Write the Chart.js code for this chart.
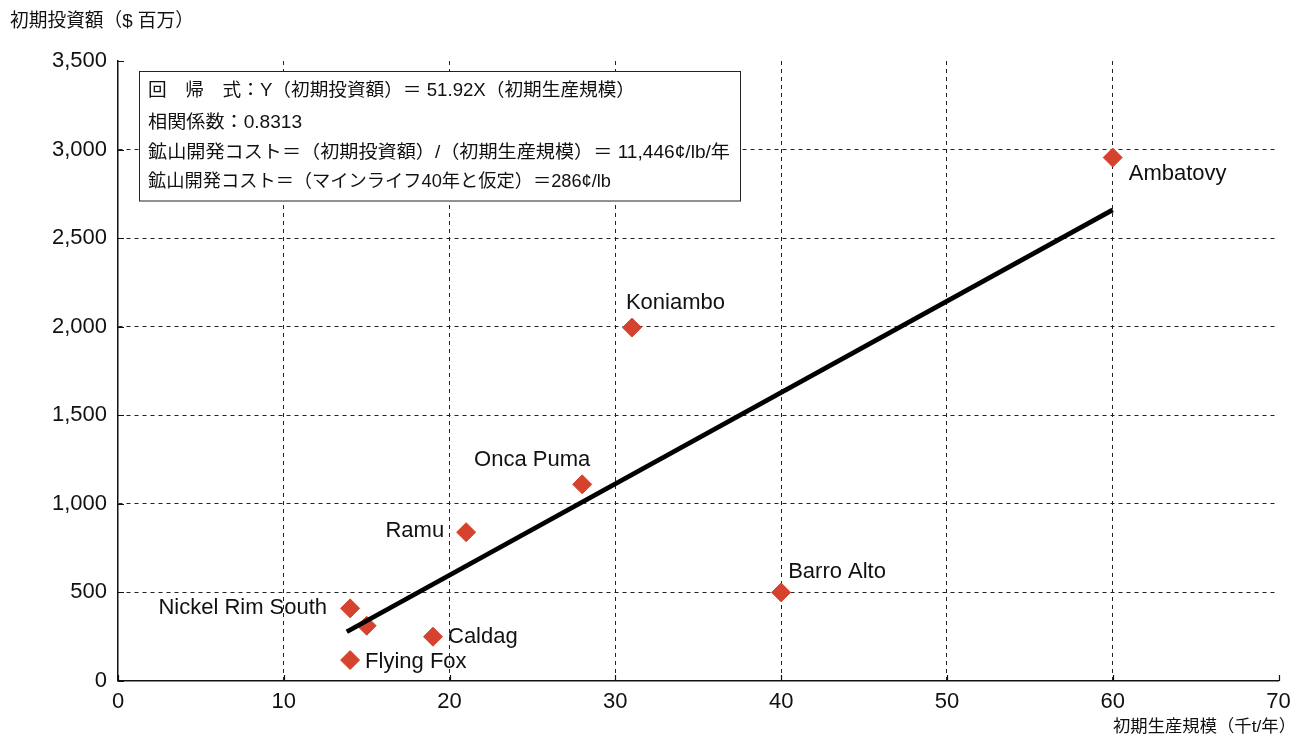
<!DOCTYPE html>
<html>
<head>
<meta charset="utf-8">
<script src="https://cdn.jsdelivr.net/npm/chart.js@4.4.1/dist/chart.umd.min.js"></script>
<style>
  html, body { margin: 0; padding: 0; background: #fff; }
</style>
</head>
<body>
<canvas id="chart" width="1295" height="738"></canvas>
<script>
// data
const mineNames = ["Ambatovy", "Koniambo", "Onca Puma", "Ramu", "Barro Alto", "Nickel Rim South", "", "Caldag", "Flying Fox"];
const capacity = [60, 31, 28, 21, 40, 14, 15, 19, 14];          // 千t/年
const capex = [2955, 1995, 1110, 840, 500, 410, 312, 250, 118];  // $百万
const fitX = [13.8, 60];
const fitY = [278, 2660];
const xTicks = [0, 10, 20, 30, 40, 50, 60, 70];
const yTicks = [0, 500, 1000, 1500, 2000, 2500, 3000, 3500];
const yTitle = "初期投資額（$ 百万）";
const xTitle = "初期生産規模（千t/年）";
const noteLines = [
  "回　帰　式：Y（初期投資額）＝ 51.92X（初期生産規模）",
  "相関係数：0.8313",
  "鉱山開発コスト＝（初期投資額）/（初期生産規模）＝ 11,446¢/lb/年",
  "鉱山開発コスト＝（マインライフ40年と仮定）＝286¢/lb"
];

const FONT = "'Liberation Sans', 'Noto Sans CJK JP', sans-serif";
const RED = "#d5432f";

// where each name sits next to its marker
const labelPlace = {
  "Ambatovy": { dx: 16, dy: 16, align: "left" },
  "Koniambo": { dx: -6, dy: -25, align: "left" },
  "Onca Puma": { dx: 8, dy: -24, align: "right" },
  "Ramu": { dx: -22, dy: -1, align: "right" },
  "Barro Alto": { dx: 7, dy: -20, align: "left" },
  "Nickel Rim South": { dx: -23, dy: 0, align: "right" },
  "Caldag": { dx: 15, dy: 0, align: "left" },
  "Flying Fox": { dx: 15, dy: 2, align: "left" }
};

// note box layout: line centres and right ends in the reference (null = reuse line 3 scale)
const noteRows = [91, 123, 153, 182];
const noteEnds = [635, null, 730, 611];

const hideEdge = (edges) => ctx => edges.includes(ctx.tick && ctx.tick.value) ? 0 : 1;

// draw text stretched horizontally by sx
function scaledText(ctx, text, x0, y, sx) {
  ctx.save();
  ctx.translate(x0, y);
  ctx.scale(sx, 1);
  ctx.textAlign = "left";
  ctx.fillText(text, 0, 0);
  ctx.restore();
}
const spanScale = (ctx, text, x0, x1) => (x1 - x0) / ctx.measureText(text).width;

const decor = {
  id: "decor",
  beforeDatasetsDraw(chart) {
    const { ctx, chartArea: a, scales: { x, y } } = chart;
    ctx.save();
    // short inward tick marks
    ctx.strokeStyle = "#111";
    ctx.lineWidth = 1.2;
    ctx.beginPath();
    yTicks.forEach(v => {
      const py = Math.round(y.getPixelForValue(v)) + 0.5;
      ctx.moveTo(a.left, py);
      ctx.lineTo(a.left + 6, py);
    });
    xTicks.forEach(v => {
      const px = Math.round(x.getPixelForValue(v)) + 0.5;
      ctx.moveTo(px, a.bottom);
      ctx.lineTo(px, a.bottom - 6);
    });
    ctx.stroke();

    // note box
    ctx.fillStyle = "#fff";
    ctx.fillRect(139.5, 71.5, 601, 129.5);
    ctx.strokeStyle = "#222";
    ctx.lineWidth = 1;
    ctx.strokeRect(139.5, 71.5, 601, 129.5);
    ctx.fillStyle = "#111";
    ctx.font = "18px " + FONT;
    ctx.textBaseline = "middle";
    const base = spanScale(ctx, noteLines[2], 148, noteEnds[2]);
    noteLines.forEach((t, i) => {
      const sx = noteEnds[i] ? spanScale(ctx, t, 148, noteEnds[i]) : base;
      scaledText(ctx, t, 148, noteRows[i], sx);
    });
    ctx.restore();
  },
  afterDatasetsDraw(chart) {
    const { ctx } = chart;
    const meta = chart.getDatasetMeta(1);
    ctx.save();
    ctx.fillStyle = "#111";
    ctx.font = "22px " + FONT;
    ctx.textBaseline = "middle";
    meta.data.forEach((pt, i) => {
      const name = mineNames[i];
      const p = labelPlace[name];
      if (!name || !p) return;
      ctx.textAlign = p.align;
      ctx.fillText(name, pt.x + p.dx, pt.y + p.dy);
    });
    ctx.restore();
  },
  afterDraw(chart) {
    const { ctx } = chart;
    ctx.save();
    ctx.fillStyle = "#111";
    ctx.textBaseline = "middle";
    ctx.font = "19px " + FONT;
    scaledText(ctx, yTitle, 10, 22, spanScale(ctx, yTitle, 10, 194));
    ctx.font = "17px " + FONT;
    scaledText(ctx, xTitle, 1113, 727, spanScale(ctx, xTitle, 1113, 1296));
    ctx.restore();
  }
};

new Chart(document.getElementById("chart"), {
  type: "scatter",
  data: {
    datasets: [
      {
        data: fitX.map((v, i) => ({ x: v, y: fitY[i] })),
        showLine: true,
        borderColor: "#000",
        borderWidth: 4.8,
        borderCapStyle: "butt",
        pointRadius: 0,
        pointHoverRadius: 0
      },
      {
        data: capacity.map((v, i) => ({ x: v, y: capex[i] })),
        pointStyle: "rectRot",
        pointRadius: 9.5,
        pointHoverRadius: 9.5,
        backgroundColor: RED,
        borderColor: RED,
        borderWidth: 1
      }
    ]
  },
  options: {
    responsive: false,
    devicePixelRatio: 1,
    animation: false,
    events: [],
    layout: { padding: { top: 61, right: 16.5, bottom: 0, left: 0 } },
    plugins: { legend: { display: false }, tooltip: { enabled: false } },
    scales: {
      x: {
        type: "linear",
        min: 0,
        max: 70,
        afterBuildTicks: s => { s.ticks = xTicks.map(v => ({ value: v })); },
        afterFit: s => { s.height = 57; s.paddingLeft = 0; s.paddingRight = 0; },
        grid: { color: "#222", lineWidth: hideEdge([0, 70]), drawTicks: false },
        border: { display: true, color: "#111", width: 1.5, dash: [4, 4] },
        ticks: { padding: 8, color: "#111", font: { size: 22, family: FONT } }
      },
      y: {
        type: "linear",
        min: 0,
        max: 3500,
        afterBuildTicks: s => { s.ticks = yTicks.map(v => ({ value: v })); },
        afterFit: s => { s.width = 118; s.paddingTop = 0; s.paddingBottom = 0; },
        grid: { color: "#222", lineWidth: hideEdge([0, 3500]), drawTicks: false },
        border: { display: true, color: "#111", width: 1.5, dash: [4, 4] },
        ticks: {
          padding: 11,
          color: "#111",
          font: { size: 22, family: FONT },
          callback: v => v.toLocaleString("en-US")
        }
      }
    }
  },
  plugins: [decor]
});
</script>
</body>
</html>
